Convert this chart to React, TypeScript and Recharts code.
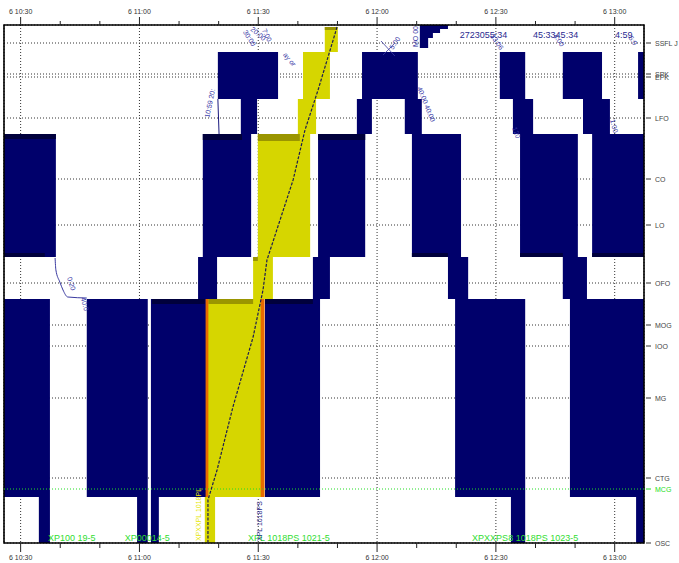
import React from 'react';
import {
  ComposedChart,
  XAxis,
  YAxis,
  CartesianGrid,
  ReferenceArea,
  ReferenceLine,
  ReferenceDot,
  Line,
} from 'recharts';

// ---------- axes ----------
const T_MIN = 625.8; // minutes of day (6th, ~10:25.8)
const T_MAX = 787.4; // ~13:07.4
const KM_MAX = 51.8;

const timeTicks = [630, 640, 650, 660, 670, 680, 690, 700, 710, 720, 730, 740, 750, 760, 770, 780];
const majorTimeTicks = [630, 660, 690, 720, 750, 780];

const stationNames = ['SSFL J', 'SPK', 'EPK', 'LFO', 'CO', 'LO', 'OFO', 'MOG', 'IOO', 'MG', 'CTG', 'MCG', 'OSC'];
const stationKm = [50.0, 46.9, 46.6, 42.5, 36.4, 31.8, 26.0, 21.8, 19.7, 14.5, 6.5, 5.4, 0];
const gridStationKm = stationKm.filter((_, i) => stationNames[i] !== 'MCG');
const mcgKm = stationKm[stationNames.indexOf('MCG')];

// ---------- blocking times: [start, end, kmFrom, kmTo] ----------
const navyBlocks = [
  // train A
  [625.8, 638.9, 28.6, 40.9],
  [625.8, 637.4, 4.6, 24.4],
  [634.6, 637.4, 0, 4.6],
  // train B
  [646.7, 662.1, 4.6, 24.4],
  [659.4, 662.1, 0, 4.6],
  // train C
  [662.9, 677.0, 4.6, 24.4],
  [662.9, 664.9, 0, 4.6],
  [674.8, 679.6, 24.4, 28.6],
  [676.0, 688.2, 28.6, 40.9],
  [685.6, 689.7, 40.9, 44.4],
  [679.8, 695.0, 44.4, 49.1],
  // train D
  [691.7, 705.6, 4.6, 24.4],
  [703.8, 708.1, 24.4, 28.6],
  [705.1, 717.0, 28.6, 40.9],
  [714.9, 718.7, 40.9, 44.4],
  // train E
  [716.2, 730.3, 44.4, 49.1],
  [727.0, 731.3, 40.9, 44.4],
  [728.8, 741.2, 28.6, 40.9],
  [737.9, 743.0, 24.4, 28.6],
  [739.7, 757.4, 4.6, 24.4],
  [753.8, 757.4, 0, 4.6],
  [730.8, 737.9, 51.4, 51.8],
  [730.8, 735.9, 51.0, 51.4],
  [730.8, 734.1, 50.5, 51.0],
  [730.8, 732.9, 49.5, 50.5],
  // train F
  [751.0, 757.4, 44.4, 49.1],
  [754.3, 759.4, 40.9, 44.4],
  [756.1, 770.7, 28.6, 40.9],
  [766.9, 773.0, 24.4, 28.6],
  [768.7, 787.4, 4.6, 24.4],
  [785.4, 787.4, 0, 4.6],
  // train G
  [766.9, 776.8, 44.4, 49.1],
  [772.0, 778.8, 40.9, 44.4],
  [774.3, 787.4, 28.6, 40.9],
  // train H
  [785.9, 787.4, 44.4, 49.1],
];

const darkBands = [
  [625.8, 638.9, 40.4, 40.9],
  [625.8, 636.1, 28.6, 29.0],
  [676.0, 685.9, 40.3, 40.9],
  [663.2, 676.5, 23.9, 24.4],
  [691.7, 703.8, 23.9, 24.4],
  [705.1, 717.0, 40.3, 40.9],
  [728.8, 737.9, 28.6, 29.0],
  [756.1, 766.9, 28.6, 29.0],
  [774.3, 787.4, 28.6, 29.0],
];

const yellowBlocks = [
  [677.0, 690.9, 4.6, 24.4],
  [676.5, 679.1, 0, 4.6],
  [688.7, 693.7, 24.4, 28.6],
  [689.9, 703.1, 28.6, 40.9],
  [700.0, 704.6, 40.9, 44.4],
  [701.3, 708.1, 44.4, 49.1],
  [706.8, 710.1, 49.1, 51.6],
];

const oliveBands = [
  [677.4, 688.7, 23.9, 24.4],
  [689.9, 700.5, 40.2, 40.9],
  [688.7, 689.9, 28.2, 28.6],
  [706.8, 709.9, 51.3, 51.6],
];

const orangeEdges = [
  [676.7, 677.4, 4.6, 24.4],
  [690.6, 691.6, 4.6, 24.4],
];

// ---------- train paths: [time, km] ----------
const yellowTrainPath = [
  [677.3, 0], [677.3, 4.3], [679.6, 7.3], [683.6, 13.6], [688.7, 20.6], [691.2, 25.3],
  [692.2, 28.3], [698.8, 36.3], [701.8, 41.3], [705.1, 45.3], [709.9, 51.6],
];
const curvePath = [
  [638.7, 28.5], [638.9, 27.3], [639.9, 26.1], [640.7, 25.3], [641.9, 24.6], [646.7, 24.5],
];
const trainCPath = [[679.8, 44.4], [680.1, 40.9]];
const crossPathA = [[721.0, 50.2], [724.5, 48.7]];
const crossPathB = [[721.5, 48.8], [724.3, 49.9]];

// ---------- annotations ----------
const navyLabelText = ['10:59 20:', '30:00', '20:00', '7:00', 'ay or', '0:20', '40:0', '5:00', 'MO 00', '40:00  40:00', '23:06', '120', '4:00', '1:00', '5:0'];
const navyLabelAt = [
  [677.6, 42.5, -78], [686.1, 51.1, 58], [687.9, 51.3, 40], [690.9, 51.3, 65], [696.2, 48.8, 50],
  [641.7, 26.5, 72], [645.2, 24.5, 75], [724.0, 49.3, -55], [730.3, 49.6, -90], [730.1, 45.5, 68],
  [748.5, 50.7, 55], [754.1, 41.5, 70], [764.4, 50.7, 55], [778.8, 42.3, 75], [783.4, 50.5, 55],
];
const topTimeText = ['2723055:34', '45:3345:34', '4:59'];
const topTimeAt = [[740.9, 50.55], [759.4, 50.55], [780.1, 50.55]];
const greenText = ['XP100 19-5', 'XP00014-5', 'XPL 1018PS  1021-5', 'XPXXPS8 1018PS  1023-5'];
const greenAt = [[636.9, 0.2], [656.3, 0.2], [687.4, 0.2], [744.0, 0.2]];
const verticalText = ['XPXXPL 1018PL', 'XPL 1018PS'];
const verticalAt = [[675.5, 0.2], [690.9, 0.2]];
const verticalColor = ['#e6e600', '#2a2a8a'];

const NAVY = '#00006b';
const FONT = '"Liberation Sans", Arial, sans-serif';

const toRows = (pts: number[][]) => pts.map(([t, km]) => ({ t, km }));

const fmt = (v: number) => {
  const h = Math.floor(v / 60);
  const m = Math.round(v - h * 60);
  return `6 ${h}:${String(m).padStart(2, '0')}`;
};

const TopTick = (props: any) => {
  const { x, y, payload } = props;
  const major = majorTimeTicks.includes(payload.value);
  return (
    <g>
      <line x1={x} x2={x} y1={y} y2={y - (major ? 8 : 4)} stroke="#222" strokeWidth={1} />
      {major && (
        <text x={x} y={y - 11} textAnchor="middle" fontSize={7} fill="#333" fontFamily={FONT}>
          {fmt(payload.value)}
        </text>
      )}
    </g>
  );
};

const BottomTick = (props: any) => {
  const { x, y, payload } = props;
  const major = majorTimeTicks.includes(payload.value);
  return (
    <g>
      <line x1={x} x2={x} y1={y} y2={y + (major ? 9 : 5)} stroke="#222" strokeWidth={1} />
      {major && (
        <text x={x} y={y + 17} textAnchor="middle" fontSize={7} fill="#333" fontFamily={FONT}>
          {fmt(payload.value)}
        </text>
      )}
    </g>
  );
};

const RightTick = (props: any) => {
  const { x, y, payload } = props;
  const i = stationKm.indexOf(payload.value);
  const name = stationNames[i];
  const green = name === 'MCG';
  return (
    <g>
      <line x1={x + 2} x2={x + 7} y1={y} y2={y} stroke={green ? '#22dd22' : '#333'} strokeWidth={1} />
      <text x={x + 11} y={y + 2.5} fontSize={7} fill={green ? '#22dd22' : '#444'} fontFamily={FONT}>
        {name}
      </text>
    </g>
  );
};

const textShape = (label: string, angle: number, color: string, size: number) => (p: any) => (
  <text
    x={p.cx}
    y={p.cy}
    transform={`rotate(${angle} ${p.cx} ${p.cy})`}
    fill={color}
    fontSize={size}
    fontFamily={FONT}
  >
    {label}
  </text>
);

const areas = (list: number[][], fill: string, key: string) =>
  list.map(([t1, t2, k1, k2], i) => (
    <ReferenceArea
      key={`${key}${i}`}
      xAxisId="bottom"
      yAxisId="km"
      x1={t1}
      x2={t2}
      y1={k1}
      y2={k2}
      fill={fill}
      fillOpacity={1}
      stroke="none"
      ifOverflow="hidden"
    />
  ));

export default function App() {
  return (
    <div style={{ position: 'absolute', left: 0, top: 0, fontFamily: FONT, background: '#fff' }}>
      <ComposedChart width={679} height={563} margin={{ top: 5, right: 5, bottom: 0, left: 4 }}>
        <XAxis
          xAxisId="top"
          orientation="top"
          type="number"
          dataKey="t"
          domain={[T_MIN, T_MAX]}
          allowDataOverflow
          ticks={timeTicks}
          interval={0}
          height={20}
          tickSize={0}
          tickMargin={0}
          axisLine={false}
          tickLine={false}
          tick={<TopTick />}
        />
        <XAxis
          xAxisId="bottom"
          orientation="bottom"
          type="number"
          dataKey="t"
          domain={[T_MIN, T_MAX]}
          allowDataOverflow
          ticks={timeTicks}
          interval={0}
          height={20}
          tickSize={0}
          tickMargin={0}
          axisLine={false}
          tickLine={false}
          tick={<BottomTick />}
        />
        <XAxis xAxisId="grid" type="number" dataKey="t" domain={[T_MIN, T_MAX]} allowDataOverflow ticks={majorTimeTicks} interval={0} hide />
        <YAxis
          yAxisId="km"
          orientation="right"
          type="number"
          domain={[0, KM_MAX]}
          allowDataOverflow
          ticks={stationKm}
          interval={0}
          width={30}
          tickSize={0}
          tickMargin={0}
          axisLine={false}
          tickLine={false}
          tick={<RightTick />}
        />
        <YAxis yAxisId="gridY" type="number" domain={[0, KM_MAX]} allowDataOverflow ticks={gridStationKm} interval={0} hide />
        <CartesianGrid xAxisId="grid" yAxisId="gridY" stroke="#333" strokeDasharray="1 2" />

        {areas(navyBlocks, NAVY, 'n')}
        {areas(darkBands, '#00003c', 'd')}
        {areas(yellowBlocks, '#d6d600', 'y')}
        {areas(oliveBands, '#9a9500', 'o')}
        {areas(orangeEdges, '#e86a00', 'e')}

        <ReferenceLine xAxisId="bottom" yAxisId="km" y={mcgKm} stroke="#22dd22" strokeDasharray="1 2" ifOverflow="hidden" />

        <Line xAxisId="bottom" yAxisId="km" data={toRows(yellowTrainPath)} dataKey="km" type="linear" dot={false} stroke="#1c1c50" strokeWidth={1.2} strokeDasharray="3 1.5" isAnimationActive={false} />
        <Line xAxisId="bottom" yAxisId="km" data={toRows(curvePath)} dataKey="km" type="monotone" dot={false} stroke="#3a3aa0" strokeWidth={1} isAnimationActive={false} />
        <Line xAxisId="bottom" yAxisId="km" data={toRows(trainCPath)} dataKey="km" type="linear" dot={false} stroke="#1a1a80" strokeWidth={1} isAnimationActive={false} />
        <Line xAxisId="bottom" yAxisId="km" data={toRows(crossPathA)} dataKey="km" type="linear" dot={false} stroke="#3a3aa0" strokeWidth={0.8} isAnimationActive={false} />
        <Line xAxisId="bottom" yAxisId="km" data={toRows(crossPathB)} dataKey="km" type="linear" dot={false} stroke="#3a3aa0" strokeWidth={0.8} isAnimationActive={false} />

        {navyLabelText.map((txt, i) => (
          <ReferenceDot key={`nl${i}`} xAxisId="bottom" yAxisId="km" x={navyLabelAt[i][0]} y={navyLabelAt[i][1]} r={0}
            shape={textShape(txt, navyLabelAt[i][2], '#3535a5', 7)} />
        ))}
        {topTimeText.map((txt, i) => (
          <ReferenceDot key={`tt${i}`} xAxisId="bottom" yAxisId="km" x={topTimeAt[i][0]} y={topTimeAt[i][1]} r={0}
            shape={textShape(txt, 0, '#2a2a90', 9)} />
        ))}
        {greenText.map((txt, i) => (
          <ReferenceDot key={`gt${i}`} xAxisId="bottom" yAxisId="km" x={greenAt[i][0]} y={greenAt[i][1]} r={0}
            shape={textShape(txt, 0, '#30dd30', 9)} />
        ))}
        {verticalText.map((txt, i) => (
          <ReferenceDot key={`vt${i}`} xAxisId="bottom" yAxisId="km" x={verticalAt[i][0]} y={verticalAt[i][1]} r={0}
            shape={textShape(txt, -90, verticalColor[i], 7)} />
        ))}

        <ReferenceArea xAxisId="bottom" yAxisId="km" x1={T_MIN} x2={T_MAX} y1={0} y2={KM_MAX}
          fill="none" stroke="#000" strokeWidth={1.6} ifOverflow="visible" />
      </ComposedChart>
    </div>
  );
}
